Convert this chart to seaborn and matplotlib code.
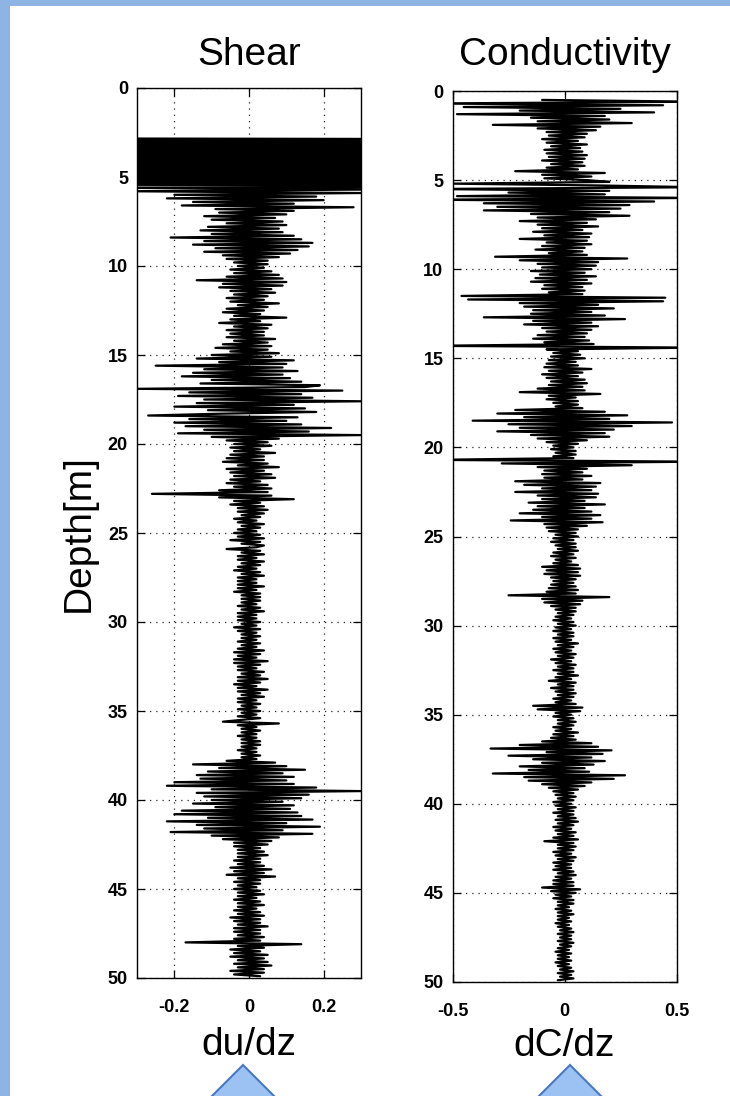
import numpy as np
import pandas as pd
import matplotlib
matplotlib.use("Agg")
import matplotlib.pyplot as plt
import seaborn as sns
from matplotlib.patches import Rectangle, Polygon

# ---------------- data ----------------
shear_start_depth = 2.8      # m, first sample of the shear profile
cond_start_depth = 0.5       # m, first sample of the conductivity profile
depth_step = 0.1             # m between samples

# du/dz in units of 0.01, one row per metre of depth
shear_cu = [
    -150, 150, -150, 150, -150, 150, -150, 150, -150, 150,   # 2.8
    -150, 150, -150, 150, -150, 150, -150, 150, -150, 150,   # 3.8
    -150, 150, -150, 150, -150, 150, -150, 150, -40, 35,     # 4.8
    -32, 30, -20, 18, -22, 20, -15, 12, -18, 28,             # 5.8
    -9, 12, -8, 10, -12, 7, -10, 9, -6, 10,                  # 6.8
    -11, 8, -13, 9, -10, 12, -21, 14, -12, 17,               # 7.8
    -15, 16, -9, 13, -12, 11, -7, 8, -6, 5,                  # 8.8
    -4, 5, -3, 4, -5, 6, -4, 8, -6, 9,                       # 9.8
    -14, 10, -7, 9, -8, 6, -5, 7, -4, 5,                     # 10.8
    -6, 4, -5, 8, -3, 5, -6, 4, -7, 3,                       # 11.8
    -4, 10, -5, 3, -8, 6, -4, 5, -6, 4,                      # 12.8
    -5, 4, -6, 7, -4, 5, -7, 6, -9, 5,                       # 13.8
    -5, 8, -10, 6, -14, 12, -8, 10, -25, 9,                  # 14.8
    -12, 13, -15, 9, -18, 11, -10, 14, -13, 19,              # 15.8
    15, -30, 25, -16, 14, -19, 17, -12, 30, -14,             # 16.8
    12, -20, 15, -11, 18, -8, -27, 13, -16, 10,              # 17.8
    -20, 14, -17, 22, -12, 16, -19, 30, -10, 8,              # 18.8
    -6, 5, -4, 6, -5, 3, -4, 7, -5, 4,                       # 19.8
    -6, 4, -7, 5, -3, 8, -6, 4, -5, 6,                       # 20.8
    -4, 7, -5, 3, -6, 5, -4, 6, -8, 5,                       # 21.8
    -26, 6, -8, 12, -4, 3, -5, 4, -3, 5,                     # 22.8
    -3, 4, -2, 3, -4, 2, -3, 4, -2, 3,                       # 23.8
    -3, 2, -4, 3, -3, 4, -5, 3, -2, 4,                       # 24.8
    2, -6, 3, -2, 4, -3, 2, -3, 4, -2,                       # 25.8
    3, -3, 2, -4, 3, -2, 4, -3, 2, -3,                       # 26.8
    2, -3, 4, -3, 2, -4, 3, -2, 3, -2,                       # 27.8
    3, -2, 2, -3, 3, -2, 4, -3, 2, -3,                       # 28.8
    2, -3, 3, -2, 2, -4, 3, -3, 2, -2,                       # 29.8
    3, -2, 2, -3, 3, -2, 2, -3, 4, -4,                       # 30.8
    3, -3, 2, -4, 5, -4, 3, -3, 2, -3,                       # 31.8
    4, -2, 3, -3, 5, -3, 3, -4, 2, -3,                       # 32.8
    5, -3, 3, -2, 4, -3, 2, -3, 3, -2,                       # 33.8
    2, -3, 3, -2, 2, -3, 3, -2, -7, 8,                       # 34.8
    -3, 2, -2, 3, -2, 2, -3, 2, -2, 3,                       # 35.8
    -2, 3, -2, 2, -3, 2, -2, 3, -2, 2,                       # 36.8
    -6, 7, -15, 10, -8, 15, -11, 9, -14, 12,                 # 37.8
    -13, 10, -20, 12, -22, 18, -10, 30, -14, 16,             # 38.8
    -12, 14, -10, 9, -15, 12, -9, 11, -18, 13,               # 39.8
    -20, 14, -11, 17, -22, 10, -14, 19, -12, 9,              # 40.8
    -21, 17, -10, 8, -7, 6, -4, 5, -4, 3,                    # 41.8
    -3, 4, -3, 5, -3, 3, -4, 3, -3, 4,                       # 42.8
    -5, 6, -4, 4, -6, 7, -3, 3, -4, 3,                       # 43.8
    -3, 2, -4, 3, -3, 4, -3, 2, -4, 3,                       # 44.8
    -3, 4, -3, 2, -4, 3, -3, 4, -5, 3,                       # 45.8
    -4, 3, -3, 5, -4, 3, -4, 3, -3, 4,                       # 46.8
    -4, 3, -17, 14, -3, 4, -5, 3, -4, 5,                     # 47.8
    -5, 4, -3, 5, -4, 6, -3, 4, -5, 4,                       # 48.8
    -4, 3,                                                   # 49.8
]

# dC/dz in units of 0.01, one row per metre of depth
cond_cu = [
    -10, 60, -60, 44, -45, 25, -20, 40, -48, 18,             # 0.5
    -15, 20, -12, 30, -32, 16, -12, 14, -8, 10,              # 1.5
    -7, 9, -10, 6, -8, 10, -6, 7, -9, 8,                     # 2.5
    -8, 10, -7, 9, -10, 8, -6, 9, -8, 6,                     # 3.5
    -22, 18, -10, 12, -9, 10, 20, -50, 15, 60,               # 4.5
    -60, 20, -25, 18, -48, 60, -60, 40, -36, 29,             # 5.5
    -30, 25, -36, 20, -15, 29, -12, 14, -20, 10,             # 6.5
    -12, 15, -10, 8, -14, 12, -9, 11, -20, 10,               # 7.5
    -8, 12, -10, 9, -13, 8, -7, 10, -31, 28,                 # 8.5
    -20, 15, -12, 14, -10, 12, -15, 9, -11, 14,              # 9.5
    -13, 10, -15, 12, -9, 8, -10, 9, -7, 8,                  # 10.5
    -46, 45, -43, 44, -20, 15, -18, 22, -14, 12,             # 11.5
    -15, 18, -36, 27, -14, 12, -18, 15, -10, 12,             # 12.5
    -8, 10, -12, 9, -14, 11, -9, 13, -60, 60,                # 13.5
    -8, 6, -5, 7, -6, 9, -7, 5, -8, 6,                       # 14.5
    -9, 12, -7, 8, -10, 6, -8, 9, -6, 10,                    # 15.5
    -7, 8, -12, 9, -20, 16, -7, 5, -8, 6,                    # 16.5
    -5, 6, -4, 8, -22, 18, -30, 28, -18, 20,                 # 17.5
    -41, 48, -25, 30, -20, 22, -30, 18, -15, 20,             # 18.5
    -12, 10, -8, 6, -5, 4, -6, 5, -4, 5,                     # 19.5
    -5, 4, -60, 60, -28, 30, -12, 10, -9, 8,                 # 20.5
    -10, 12, -9, 8, -22, 16, -18, 14, -10, 12,               # 21.5
    -22, 15, -12, 14, -10, 9, -16, 18, -12, 9,               # 22.5
    -14, 12, -20, 16, -10, 12, -24, 17, -9, 10,              # 23.5
    -8, 6, -7, 5, -4, 6, -5, 4, -6, 5,                       # 24.5
    -4, 5, -3, 6, -5, 4, -6, 5, -4, 3,                       # 25.5
    -5, 6, -10, 7, -8, 6, -9, 7, -6, 5,                      # 26.5
    -5, 4, -6, 5, -7, 6, -8, 5, -25, 20,                     # 27.5
    -10, 8, -9, 7, -6, 5, -4, 5, -3, 4,                      # 28.5
    -4, 3, -5, 4, -3, 5, -4, 3, -5, 4,                       # 29.5
    -3, 4, -5, 3, -4, 6, -3, 4, -5, 3,                       # 30.5
    -4, 5, -3, 4, -6, 3, -4, 5, -3, 4,                       # 31.5
    -5, 4, -3, 6, -4, 3, -7, 5, -3, 4,                       # 32.5
    -6, 4, -4, 5, -3, 4, -5, 3, -4, 5,                       # 33.5
    -14, 8, -12, 7, -4, 3, -5, 4, -3, 5,                     # 34.5
    -3, 4, -5, 3, -4, 6, -5, 4, -6, 5,                       # 35.5
    -10, 12, -20, 15, -33, 21, -8, 17, -25, 12,              # 36.5
    -14, 18, -10, 13, -20, 9, -16, 11, -32, 27,              # 37.5
    -18, 22, -16, 12, -10, 9, -7, 6, -5, 4,                  # 38.5
    -4, 5, -3, 4, -5, 3, -4, 5, -3, 4,                       # 39.5
    -5, 4, -3, 5, -4, 6, -3, 4, -5, 3,                       # 40.5
    -4, 5, -3, 4, -5, 6, -9, 4, -3, 5,                       # 41.5
    -3, 4, -5, 3, -4, 5, -3, 4, -5, 3,                       # 42.5
    -4, 3, -5, 4, -3, 5, -4, 3, -5, 4,                       # 43.5
    -5, 4, -10, 7, -6, 5, -4, 3, -5, 4,                      # 44.5
    -3, 4, -3, 2, -4, 3, -3, 4, -3, 2,                       # 45.5
    -3, 3, -4, 2, -3, 3, -2, 4, -3, 3,                       # 46.5
    -2, 3, -3, 4, -2, 3, -3, 2, -4, 3,                       # 47.5
    -3, 2, -3, 3, -4, 2, -3, 3, -2, 4,                       # 48.5
    -3, 3, -2, 4, -3,                                        # 49.5
]

panel_titles = ["Shear", "Conductivity"]
x_labels = ["du/dz", "dC/dz"]
y_label = "Depth[m]"
shear_xticks = [-0.2, 0.0, 0.2]
shear_xticklabels = ["-0.2", "0", "0.2"]
cond_xticks = [-0.5, 0.0, 0.5]
cond_xticklabels = ["-0.5", "0", "0.5"]
depth_ticks = [0, 5, 10, 15, 20, 25, 30, 35, 40, 45, 50]
depth_ticklabels = ["0", "5", "10", "15", "20", "25", "30", "35", "40", "45", "50"]

# ---------------- build tables ----------------
shear_vals = np.array(shear_cu, dtype=float) / 100.0
cond_vals = np.array(cond_cu, dtype=float) / 100.0
shear_df = pd.DataFrame({
    "depth": shear_start_depth + depth_step * np.arange(len(shear_vals)),
    "value": shear_vals,
})
cond_df = pd.DataFrame({
    "depth": cond_start_depth + depth_step * np.arange(len(cond_vals)),
    "value": cond_vals,
})

# ---------------- style ----------------
sns.set_style("ticks")
plt.rcParams["font.family"] = ["Liberation Sans", "DejaVu Sans"]
plt.rcParams["text.color"] = "black"
plt.rcParams["axes.labelcolor"] = "black"
plt.rcParams["xtick.color"] = "black"
plt.rcParams["ytick.color"] = "black"

W, H = 730, 1096
fig = plt.figure(figsize=(W / 100, H / 100), dpi=100)
fig.patch.set_facecolor("#8DB4E2")
fig.add_artist(Rectangle((10 / W, 0), 1 - 10 / W, 1 - 6 / H,
                         transform=fig.transFigure, facecolor="white",
                         edgecolor="none", zorder=-10))

def px_axes(left, top, right, bottom):
    return fig.add_axes([left / W, 1 - bottom / H, (right - left) / W, (bottom - top) / H])

ax1 = px_axes(137, 88, 361, 978)
ax2 = px_axes(452.5, 91, 676.5, 982)

specs = [
    (ax1, shear_df, (-0.3, 0.3), shear_xticks, shear_xticklabels, 16.5, 8),
    (ax2, cond_df, (-0.5, 0.5), cond_xticks, cond_xticklabels, 18.5, 6),
]

for i, (ax, df, xlim, xt, xtl, tpad, lpad) in enumerate(specs):
    ax.set_facecolor("white")
    sns.lineplot(data=df, x="value", y="depth", sort=False, orient="y",
                 estimator=None, color="black", linewidth=1.6, ax=ax, zorder=3)
    ax.set_xlim(*xlim)
    ax.set_ylim(50, 0)
    ax.set_xticks(xt)
    ax.set_xticklabels(xtl, fontweight="bold")
    ax.set_yticks(depth_ticks)
    ax.set_yticklabels(depth_ticklabels, fontweight="bold")
    ax.grid(True, linestyle=(0, (1, 4)), color="black", linewidth=0.9, alpha=0.85)
    ax.set_axisbelow(True)
    for sp in ax.spines.values():
        sp.set_visible(True)
        sp.set_color("black")
        sp.set_linewidth(1.0)
        sp.set_zorder(5)
    ax.tick_params(direction="in", length=6, width=0.9, top=True, right=True,
                   labelsize=13, colors="black")
    ax.tick_params(axis="x", pad=15)
    ax.tick_params(axis="y", pad=6.5)
    ax.set_title(panel_titles[i], fontsize=28, pad=tpad)
    ax.set_xlabel(x_labels[i], fontsize=28, labelpad=lpad)
    ax.set_ylabel("")

ax1.set_ylabel(y_label, fontsize=28, labelpad=8)

# decorative up-arrows under the x labels
for cx in (243, 570):
    tri = Polygon([(cx / W, 1 - 1065 / H), ((cx - 40) / W, 1 - 1105 / H),
                   ((cx + 40) / W, 1 - 1105 / H)], closed=True,
                  transform=fig.transFigure, facecolor="#9CC2F3",
                  edgecolor="#4A78BE", linewidth=1.5, zorder=5, clip_on=False)
    fig.add_artist(tri)

fig.savefig("out.png", dpi=100, facecolor=fig.get_facecolor())
